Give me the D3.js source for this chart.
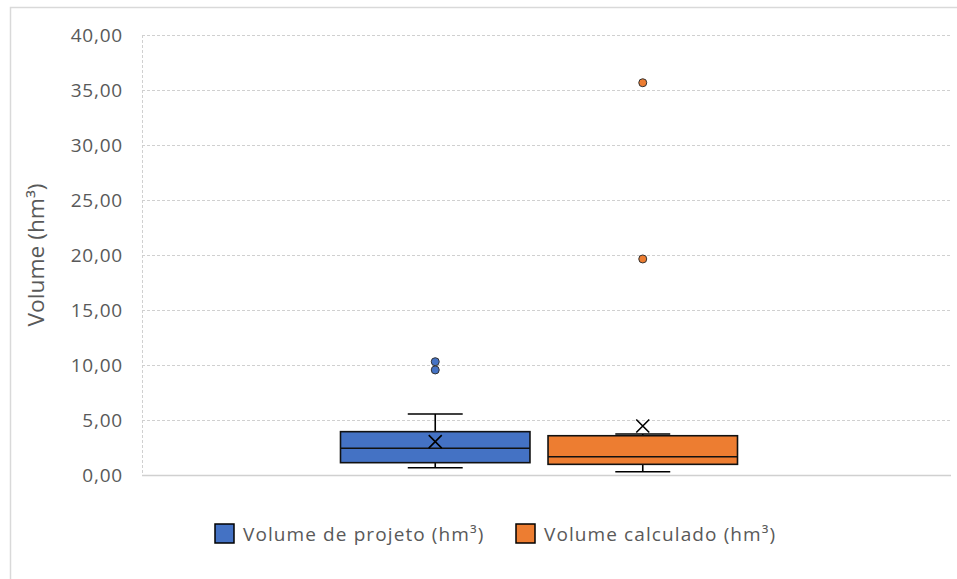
<!DOCTYPE html>
<html>
<head>
<meta charset="utf-8">
<script src="https://cdn.jsdelivr.net/npm/d3@7"></script>
<style>
  body { margin: 0; background: #fff; }
  text { font-family: "Open Sans", "Noto Sans", sans-serif; fill: #595959; }
</style>
</head>
<body>
<div class="container"></div>
<script>
const seriesNames = ["Volume de projeto (hm³)", "Volume calculado (hm³)"]
const colors = ["#4472C4", "#ED7D31"]
const whiskerLow = [0.66, 0.30]
const q1 = [1.12, 0.97]
const medians = [2.43, 1.66]
const q3 = [3.94, 3.57]
const whiskerHigh = [5.55, 3.73]
const means = [3.03, 4.45]
const outliers = [[10.3, 9.55], [35.66, 19.64]]
const yTicks = [0, 5, 10, 15, 20, 25, 30, 35, 40]

const w = 957
const h = 579
const plotLeft = 142, plotRight = 951, plotTop = 35, plotBottom = 475

const svg = d3.select(".container")
  .append("svg")
  .attr("width", w)
  .attr("height", h)

// chart frame
svg.append("rect")
  .attr("x", 10.5).attr("y", 7.5)
  .attr("width", w + 10).attr("height", h + 10)
  .attr("fill", "none")
  .attr("stroke", "#d9d9d9")
  .attr("stroke-width", 1.5)

const y = d3.scaleLinear().domain([0, 40]).range([plotBottom, plotTop])

const x0 = d3.scaleBand().domain(["cat"]).range([plotLeft, 936]).paddingOuter(0.5)
const x1 = d3.scaleBand().domain(d3.range(seriesNames.length))
  .range([0, x0.bandwidth()]).paddingInner(0.087)

// gridlines
svg.append("g")
  .selectAll("line")
  .data(yTicks.filter(d => d > 0))
  .enter()
  .append("line")
  .attr("x1", plotLeft).attr("x2", plotRight)
  .attr("y1", d => Math.round(y(d)) + 0.5)
  .attr("y2", d => Math.round(y(d)) + 0.5)
  .attr("stroke", "#d0d0d0")
  .attr("stroke-dasharray", "3,2")

// left axis line (dashed) and baseline
svg.append("line")
  .attr("x1", plotLeft + 0.5).attr("x2", plotLeft + 0.5)
  .attr("y1", y(40)).attr("y2", y(0))
  .attr("stroke", "#d0d0d0")
  .attr("stroke-dasharray", "3,2")
svg.append("line")
  .attr("x1", plotLeft).attr("x2", plotRight)
  .attr("y1", Math.round(y(0)) + 0.5).attr("y2", Math.round(y(0)) + 0.5)
  .attr("stroke", "#d0d0d0")
  .attr("stroke-width", 1.5)

// tick labels
const fmt = d => d3.format(".2f")(d).replace(".", ",")
svg.append("g")
  .selectAll("text")
  .data(yTicks)
  .enter()
  .append("text")
  .attr("x", 123)
  .attr("y", d => y(d))
  .attr("dy", "0.35em")
  .attr("text-anchor", "end")
  .attr("font-size", "19px")
  .attr("letter-spacing", "0.8px")
  .text(fmt)

// axis title
svg.append("text")
  .attr("transform", `translate(44,255) rotate(-90)`)
  .attr("text-anchor", "middle")
  .attr("font-size", "21px")
  .attr("textLength", 143)
  .attr("lengthAdjust", "spacingAndGlyphs")
  .text("Volume (hm³)")

// boxes
const idx = d3.range(seriesNames.length)
const box = svg.append("g")
  .selectAll("g")
  .data(idx)
  .enter()
  .append("g")
  .attr("transform", i => `translate(${x0("cat") + x1(i)},0)`)

const bw = x1.bandwidth()
const capW = bw * 0.29

// whisker stems
box.append("line")
  .attr("x1", bw / 2).attr("x2", bw / 2)
  .attr("y1", i => y(whiskerLow[i])).attr("y2", i => y(whiskerHigh[i]))
  .attr("stroke", "#000").attr("stroke-width", 1.6)
box.selectAll(".cap")
  .data(i => [whiskerLow[i], whiskerHigh[i]])
  .enter()
  .append("line")
  .attr("x1", bw / 2 - capW / 2).attr("x2", bw / 2 + capW / 2)
  .attr("y1", d => y(d)).attr("y2", d => y(d))
  .attr("stroke", "#000").attr("stroke-width", 1.6)

box.append("rect")
  .attr("x", 0)
  .attr("width", bw)
  .attr("y", i => y(q3[i]))
  .attr("height", i => y(q1[i]) - y(q3[i]))
  .attr("fill", i => colors[i])
  .attr("stroke", "#111")
  .attr("stroke-width", 1.6)

box.append("line")
  .attr("x1", 0).attr("x2", bw)
  .attr("y1", i => y(medians[i])).attr("y2", i => y(medians[i]))
  .attr("stroke", "#111").attr("stroke-width", 1.6)

// mean markers
const m = 6.5
box.append("path")
  .attr("d", i => {
    const cx = bw / 2, cy = y(means[i])
    return `M${cx - m},${cy - m}L${cx + m},${cy + m}M${cx - m},${cy + m}L${cx + m},${cy - m}`
  })
  .attr("stroke", "#000").attr("stroke-width", 1.6)
  .attr("fill", "none")

// outliers
box.selectAll(".out")
  .data(i => outliers[i].map(v => ({ v, i })))
  .enter()
  .append("circle")
  .attr("cx", bw / 2)
  .attr("cy", d => y(d.v))
  .attr("r", 4)
  .attr("fill", d => colors[d.i])
  .attr("stroke", "#333")
  .attr("stroke-width", 1)

// legend
const legendX = [215, 516]
const legend = svg.append("g")
  .selectAll("g")
  .data(idx)
  .enter()
  .append("g")
  .attr("transform", i => `translate(${legendX[i]},524)`)

legend.append("rect")
  .attr("width", 19).attr("height", 19)
  .attr("fill", i => colors[i])
  .attr("stroke", "#000")
  .attr("stroke-width", 1.5)

legend.append("text")
  .attr("x", 28)
  .attr("y", 10)
  .attr("dy", "0.35em")
  .attr("font-size", "19px")
  .attr("letter-spacing", "1.1px")
  .text(i => seriesNames[i])
</script>
</body>
</html>
